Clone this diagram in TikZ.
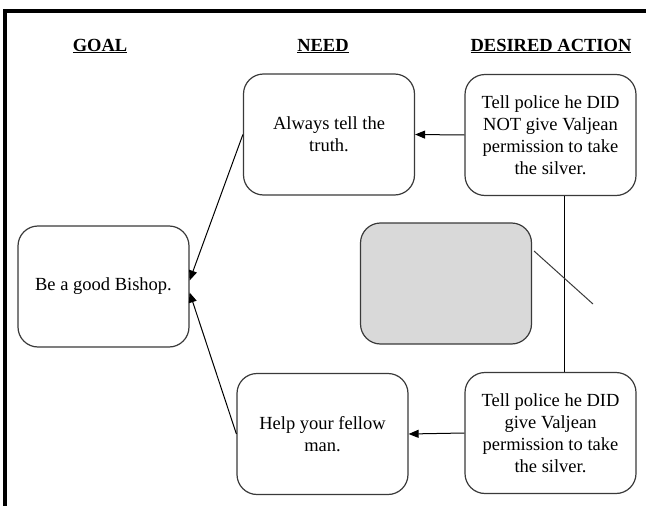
\documentclass[tikz,border=0pt]{standalone}
\usepackage{fontspec}
\setmainfont{Liberation Serif}
\usetikzlibrary{arrows.meta}

\definecolor{boxline}{HTML}{3A3A3A}
\definecolor{boxgray}{HTML}{D9D9D9}

\tikzset{
  stepbox/.style={draw=boxline, line width=1.2pt, rounded corners=20pt, fill=white,
    minimum width=171pt, minimum height=121pt, align=center, inner sep=4pt,
    font=\fontsize{18.5}{22}\selectfont},
  heading/.style={font=\fontsize{18.5}{22}\selectfont\bfseries},
  link/.style={draw=black, line width=1pt},
  arr/.style={link, -{Triangle[length=10pt,width=8pt]}}
}

\begin{document}
\begin{tikzpicture}[x=1pt, y=-1pt]
  \useasboundingbox (0,0) rectangle (646,506);
  \draw[line width=4.2pt] (5.3,506) -- (5.3,11.2) -- (646,11.2);

  \node[heading] (hgoal) at (100,46) {\underline{GOAL}};
  \node[heading] (hneed) at (323,46) {\underline{NEED}};
  \node[heading] (hact) at (551,46) {\underline{DESIRED ACTION}};

  \node[stepbox] (truth) at (329,134.5) {Always tell the\\truth.};
  \node[stepbox] (nottell) at (550.5,135) {Tell police he DID\\NOT give Valjean\\permission to take\\the silver.};
  \node[stepbox] (goal) at (103.5,286.5) {Be a good Bishop.};
  \node[stepbox, fill=boxgray] (blank) at (446,283.5) {};
  \node[stepbox] (help) at (322.5,434) {Help your fellow\\man.};
  \node[stepbox] (didtell) at (550.5,433) {Tell police he DID\\give Valjean\\permission to take\\the silver.};

  \draw[arr] (nottell.west) -- (truth.east);
  \draw[arr] (didtell.west) -- (help.east);
  \draw[arr] (truth.west) -- ([yshift=6pt]goal.east);
  \draw[arr] (help.west) -- ([yshift=-6pt]goal.east);
  \draw[link] ([xshift=13.5pt]nottell.south) -- ([xshift=13.5pt]didtell.north);

  \coordinate (slashA) at (534,251);
  \coordinate (slashB) at (593,304);
  \draw[draw=boxline, line width=1pt] (slashA) -- (slashB);
\end{tikzpicture}
\end{document}
